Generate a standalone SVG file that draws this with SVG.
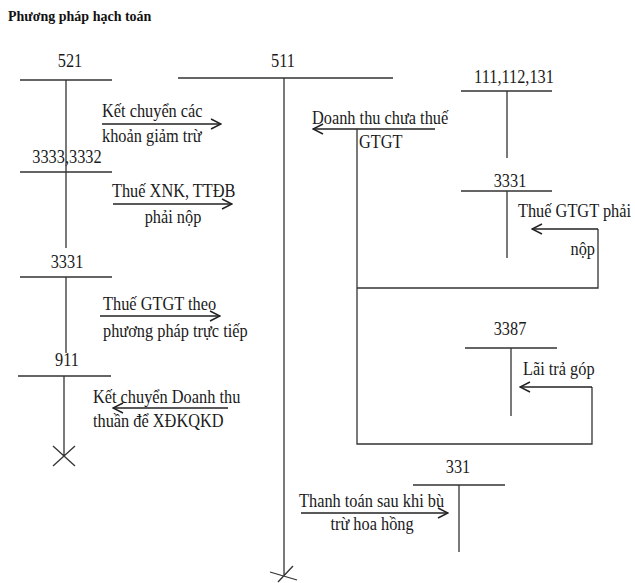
<svg xmlns="http://www.w3.org/2000/svg" width="635" height="583" viewBox="0 0 635 583">
<style>
.t{font-family:"Liberation Serif","Times New Roman",serif;font-size:19px;fill:#1a1a1a}
.m{text-anchor:middle}
.e{text-anchor:end}
.ttl{font-family:"Liberation Serif","Times New Roman",serif;font-size:14px;font-weight:bold;fill:#111}
.ln{stroke:#333;stroke-width:1.3;fill:none}
.ar{stroke:#222;stroke-width:1.5;fill:none;marker-end:url(#ah)}
.cn{stroke:#333;stroke-width:1.3;fill:none}
</style>
<defs>
<marker id="ah" viewBox="0 0 12 12" refX="11" refY="6" markerWidth="12" markerHeight="12" markerUnits="userSpaceOnUse" orient="auto">
<path d="M1,1 L11,6 L1,11" stroke="#222" stroke-width="1.5" fill="none"/>
</marker>
</defs>
<rect width="635" height="583" fill="#fff"/>
<text class="ttl" x="8" y="21">Phương pháp hạch toán</text>

<g id="acc521">
<g transform="scale(0.86,1)"><text class="t m" x="81.4" y="67">521</text></g>
<path class="ln" d="M20,80 H112 M66,80 V172"/>
</g>
<g id="acc3333">
<g transform="scale(0.86,1)"><text class="t m" x="77.9" y="163">3333,3332</text></g>
<path class="ln" d="M20,172 H112 M66,172 V248"/>
</g>
<g id="acc3331L">
<g transform="scale(0.86,1)"><text class="t m" x="77.9" y="268">3331</text></g>
<path class="ln" d="M20,277 H112 M66,277 V353"/>
</g>
<g id="acc911">
<g transform="scale(0.86,1)"><text class="t m" x="77.9" y="366">911</text></g>
<path class="ln" d="M18,376 H111 M64,376 V456 M53,446 L75,466 M53,466 L75,446"/>
</g>
<g id="acc511">
<g transform="scale(0.86,1)"><text class="t m" x="329.1" y="67">511</text></g>
<path class="ln" d="M178,78 H393 M284,78 V575 M270,572 L297,580 M293,566 L278,582"/>
</g>
<g id="acc111">
<g transform="scale(0.86,1)"><text class="t m" x="597.7" y="83">111,112,131</text></g>
<path class="ln" d="M461,91 H552 M507,91 V158"/>
</g>
<g id="acc3331R">
<g transform="scale(0.86,1)"><text class="t m" x="593" y="187">3331</text></g>
<path class="ln" d="M461,191 H552 M507,191 V258"/>
</g>
<g id="acc3387">
<g transform="scale(0.86,1)"><text class="t m" x="593" y="335">3387</text></g>
<path class="ln" d="M465,348 H557 M511,348 V416"/>
</g>
<g id="acc331">
<g transform="scale(0.86,1)"><text class="t m" x="532.6" y="473">331</text></g>
<path class="ln" d="M413,485 H505 M459,485 V552"/>
</g>

<g id="connectors">
<path class="ar" d="M102,124 H221"/>
<path class="ar" d="M113,204 H232"/>
<path class="ar" d="M100,316 H220"/>
<path class="ar" d="M228,408 H113"/>
<path class="ar" d="M435,129 H313"/>
<path class="cn" d="M357,129 V444 H592 V387"/>
<path class="ar" d="M592,387 H520"/>
<path class="cn" d="M357,288 H598 V229"/>
<path class="ar" d="M598,229 H532"/>
<path class="ar" d="M301,513 H448"/>
<g transform="scale(0.86,1)">
<text class="t" x="118.6" y="117">Kết chuyển các</text>
<text class="t" x="118.6" y="142">khoản giảm trừ</text>
<text class="t" x="130.2" y="197">Thuế XNK, TTĐB</text>
<text class="t m" x="201.2" y="223">phải nộp</text>
<text class="t" x="119.8" y="310">Thuế GTGT theo</text>
<text class="t" x="119.8" y="337">phương pháp trực tiếp</text>
<text class="t" x="108.1" y="403">Kết chuyển Doanh thu</text>
<text class="t" x="108.1" y="427">thuần để XĐKQKD</text>
<text class="t" x="362.8" y="124">Doanh thu chưa thuế</text>
<text class="t" x="417.4" y="148">GTGT</text>
<text class="t" x="608.1" y="375">Lãi trả góp</text>
<text class="t" x="602.3" y="217">Thuế GTGT phải</text>
<text class="t e" x="691.9" y="255">nộp</text>
<text class="t" x="347.7" y="507">Thanh toán sau khi bù</text>
<text class="t m" x="432.6" y="530">trừ hoa hồng</text>
</g>
</g>
</svg>
